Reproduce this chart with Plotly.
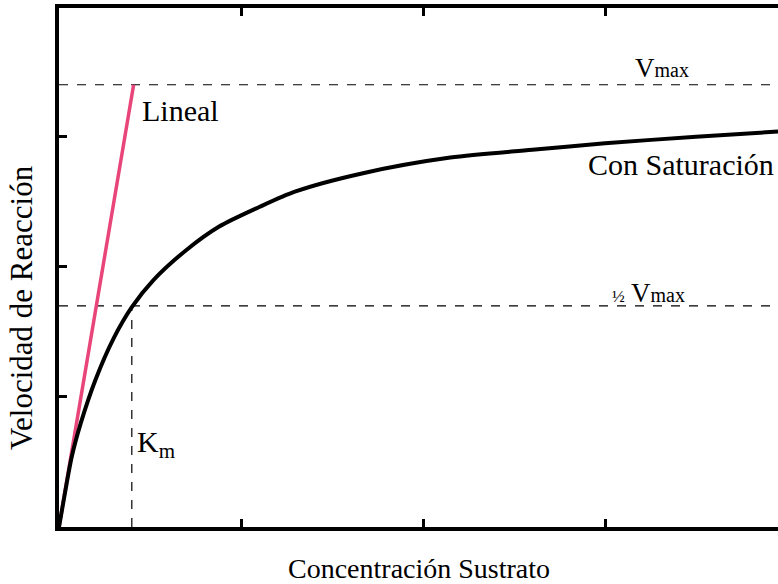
import plotly.graph_objects as go

# Data (axis units: 1 tick = 1 unit)
sustrato = [0, 0.03, 0.07, 0.12, 0.2, 0.3, 0.4, 0.52, 0.7, 0.88, 1.1, 1.3, 1.67, 2.15, 2.6, 3.0, 3.5, 3.95]
velocidad = [0, 0.24, 0.54, 0.80, 1.13, 1.45, 1.69, 1.90, 2.13, 2.31, 2.46, 2.58, 2.72, 2.84, 2.90, 2.95, 3.00, 3.04]
lineal_x = [0, 0.41]
lineal_y = [0, 3.4]
vmax = 3.4
km = 0.40
x_max = 3.95
y_max = 3.99
tick_vals = [1, 2, 3]

FONT = "Liberation Serif"

fig = go.Figure()
# dashed reference lines
fig.add_trace(go.Scatter(x=[0, x_max], y=[vmax, vmax], mode="lines",
                         line=dict(color="black", width=1.2, dash="dash"), hoverinfo="skip"))
fig.add_trace(go.Scatter(x=[0, x_max], y=[vmax / 2, vmax / 2], mode="lines",
                         line=dict(color="black", width=1.2, dash="dash"), hoverinfo="skip"))
fig.add_trace(go.Scatter(x=[km, km], y=[0, vmax / 2], mode="lines",
                         line=dict(color="black", width=1.2, dash="dash"), hoverinfo="skip"))
# linear
fig.add_trace(go.Scatter(x=lineal_x, y=lineal_y, mode="lines",
                         line=dict(color="#e8457a", width=3.5), cliponaxis=False))
# saturation
fig.add_trace(go.Scatter(x=sustrato, y=velocidad, mode="lines",
                         line=dict(color="black", width=4, shape="spline", smoothing=0.8),
                         cliponaxis=False))

big = dict(family=FONT, size=30, color="black")
med = dict(family=FONT, size=27, color="black")
fig.add_annotation(x=0.445, y=3.2, text="Lineal", showarrow=False, xanchor="left", font=big)
fig.add_annotation(x=3.31, y=3.53, text="V<span style='font-size:20px'>max</span>",
                   showarrow=False, font=med)
fig.add_annotation(x=3.94, y=2.79, text="Con Saturación", showarrow=False, xanchor="right",
                   font=big)
fig.add_annotation(x=3.24, y=1.80,
                   text="<span style='font-size:17px'>½</span> V<span style='font-size:20px'>max</span>",
                   showarrow=False, font=med)
fig.add_annotation(x=0.42, y=0.64, text="K<sub>m</sub>", showarrow=False, xanchor="left",
                   font=big)
# axis titles
fig.add_annotation(xref="paper", yref="paper", x=0.5, y=-0.079, text="Concentración Sustrato",
                   showarrow=False, xanchor="center", yanchor="middle",
                   font=dict(family=FONT, size=28, color="black"))
fig.add_annotation(xref="paper", yref="paper", x=-0.0515, y=0.424, text="Velocidad de Reacción",
                   textangle=-90, showarrow=False, xanchor="center", yanchor="middle",
                   font=dict(family=FONT, size=31, color="black"))

fig.update_layout(
    width=778, height=584,
    margin=dict(l=59, r=0, t=8, b=57),
    paper_bgcolor="white", plot_bgcolor="white",
    showlegend=False,
    font=dict(family=FONT, size=25, color="black"),
    xaxis=dict(range=[0, x_max], showgrid=False, zeroline=False,
               showline=True, linecolor="black", linewidth=3.5, mirror="ticks",
               ticks="inside", ticklen=8, tickwidth=3, tickcolor="black",
               tickvals=tick_vals, showticklabels=False),
    yaxis=dict(range=[0, y_max], showgrid=False, zeroline=False,
               showline=True, linecolor="black", linewidth=3.5, mirror=False,
               ticks="inside", ticklen=8, tickwidth=3, tickcolor="black",
               tickvals=tick_vals, showticklabels=False),
)

fig.write_html("out.html", config={"displayModeBar": False},
               post_script="document.body.style.margin='0';document.body.style.overflow='hidden';")
